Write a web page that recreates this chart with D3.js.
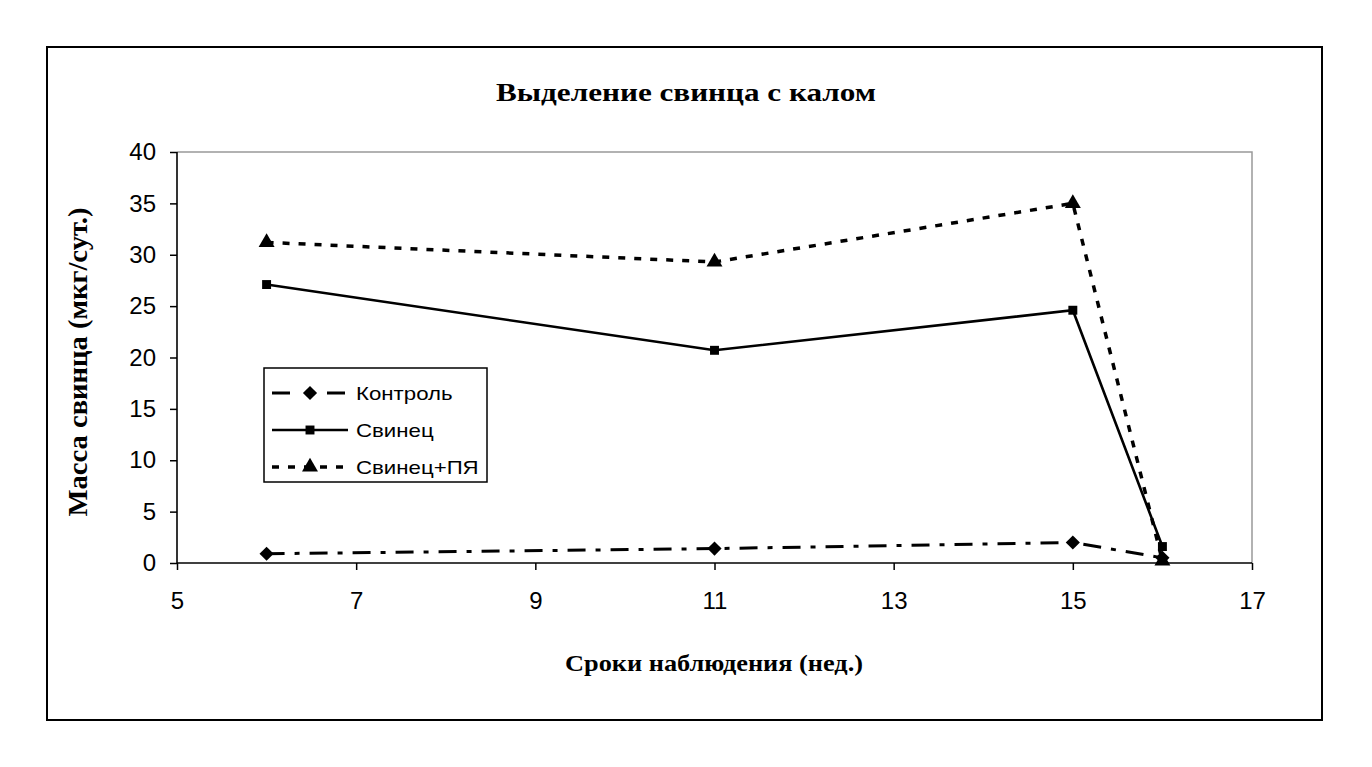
<!DOCTYPE html>
<html><head><meta charset="utf-8">
<script src="https://cdn.jsdelivr.net/npm/d3@7"></script>
<style>body{margin:0;background:#fff}svg{display:block}</style>
</head><body>
<script>
const weeks = [6, 11, 15, 16];
const kontrol = [0.9, 1.4, 2.0, 0.5];
const svinec = [27.1, 20.7, 24.6, 1.6];
const svinecPY = [31.2, 29.3, 35.0, 0.2];
const seriesNames = ["Контроль", "Свинец", "Свинец+ПЯ"];
const xTicks = [5, 7, 9, 11, 13, 15, 17];
const yTicks = [0, 5, 10, 15, 20, 25, 30, 35, 40];
const title = "Выделение свинца с калом";
const xTitle = "Сроки наблюдения (нед.)";
const yTitle = "Масса свинца (мкг/сут.)";

const W = 1372, H = 767;
const svg = d3.select("body").append("svg").attr("width", W).attr("height", H);

svg.append("rect").attr("x", 47).attr("y", 47).attr("width", 1275).attr("height", 673)
  .attr("fill", "none").attr("stroke", "#000").attr("stroke-width", 2);

const x = d3.scaleLinear().domain([5, 17]).range([177, 1252]);
const y = d3.scaleLinear().domain([0, 40]).range([563, 152]);

svg.append("path").attr("d", `M${x(5)},${y(40)}H${x(17)}V${y(0)}`)
  .attr("fill", "none").attr("stroke", "#999").attr("stroke-width", 1.5);

const serif = "'Liberation Serif','Times New Roman',serif";
const sans = "'Liberation Sans',Arial,sans-serif";

svg.append("text").attr("x", 686).attr("y", 101).attr("text-anchor", "middle")
  .attr("font-family", serif).attr("font-weight", "bold").attr("font-size", 26)
  .attr("textLength", 380).attr("lengthAdjust", "spacingAndGlyphs")
  .text(title);

const xAxis = svg.append("g").attr("transform", `translate(0,${y(0)})`)
  .call(d3.axisBottom(x).tickValues(xTicks).tickSize(7).tickPadding(22).tickFormat(d3.format("d")));
const yAxis = svg.append("g").attr("transform", `translate(${x(5)},0)`)
  .call(d3.axisLeft(y).tickValues(yTicks).tickSize(7).tickPadding(14).tickFormat(d3.format("d")));
[xAxis, yAxis].forEach(a => {
  a.select(".domain").attr("stroke", "#000").attr("stroke-width", 1.6);
  a.selectAll(".tick line").attr("stroke", "#000").attr("stroke-width", 1.5);
  a.selectAll(".tick text").attr("font-family", sans).attr("font-size", 24).attr("fill", "#000");
});
xAxis.select(".domain").attr("d", `M${x(5)},0H${x(17)}`);
yAxis.select(".domain").attr("d", `M0,${y(40)}V${y(0)}`);

svg.append("text").attr("x", 714).attr("y", 671).attr("text-anchor", "middle")
  .attr("font-family", serif).attr("font-weight", "bold").attr("font-size", 24)
  .attr("textLength", 298).attr("lengthAdjust", "spacingAndGlyphs")
  .text(xTitle);
svg.append("text").attr("transform", `translate(87,362) rotate(-90)`).attr("text-anchor", "middle")
  .attr("font-family", serif).attr("font-weight", "bold").attr("font-size", 27)
  .attr("textLength", 309).attr("lengthAdjust", "spacingAndGlyphs")
  .text(yTitle);

const squareDiamond = {
  draw(ctx, size) {
    const r = Math.sqrt(size / 2);
    ctx.moveTo(0, -r); ctx.lineTo(r, 0); ctx.lineTo(0, r); ctx.lineTo(-r, 0); ctx.closePath();
  }
};

const styles = [
  {data: kontrol, dash: "18,10,5,10", width: 3, marker: squareDiamond, size: 100},
  {data: svinec, dash: null, width: 2.6, marker: d3.symbolSquare, size: 80},
  {data: svinecPY, dash: "7,9", width: 3.5, marker: d3.symbolTriangle, size: 110}
];

const line = d3.line().x(d => x(d[0])).y(d => y(d[1]));
styles.forEach(s => {
  const pts = weeks.map((w, i) => [w, s.data[i]]);
  svg.append("path").attr("d", line(pts)).attr("fill", "none").attr("stroke", "#000")
    .attr("stroke-width", s.width).attr("stroke-dasharray", s.dash);
  svg.selectAll(null).data(pts).enter().append("path")
    .attr("transform", d => `translate(${x(d[0])},${y(d[1])})`)
    .attr("d", d3.symbol().type(s.marker).size(s.size)).attr("fill", "#000");
});

const lg = svg.append("g");
lg.append("rect").attr("x", 264).attr("y", 368).attr("width", 223).attr("height", 114)
  .attr("fill", "#fff").attr("stroke", "#000").attr("stroke-width", 1.5);
seriesNames.forEach((n, i) => {
  const s = styles[i];
  const yy = 393 + i * 37;
  const sample = i === 0 ? `M272,${yy}H290M327,${yy}H345` : `M272,${yy}H348`;
  lg.append("path").attr("d", sample).attr("stroke", "#000")
    .attr("stroke-width", s.width).attr("stroke-dasharray", i === 0 ? null : s.dash).attr("fill", "none");
  lg.append("path").attr("transform", `translate(310,${yy})`)
    .attr("d", d3.symbol().type(s.marker).size(s.size)).attr("fill", "#000");
  const t = lg.append("text").attr("x", 356).attr("y", yy + 7).attr("font-family", sans)
    .attr("font-size", 19).attr("fill", "#000").text(n);
  const len = t.node().getComputedTextLength();
  t.attr("textLength", len * 1.17).attr("lengthAdjust", "spacingAndGlyphs");
});
</script>
</body></html>
